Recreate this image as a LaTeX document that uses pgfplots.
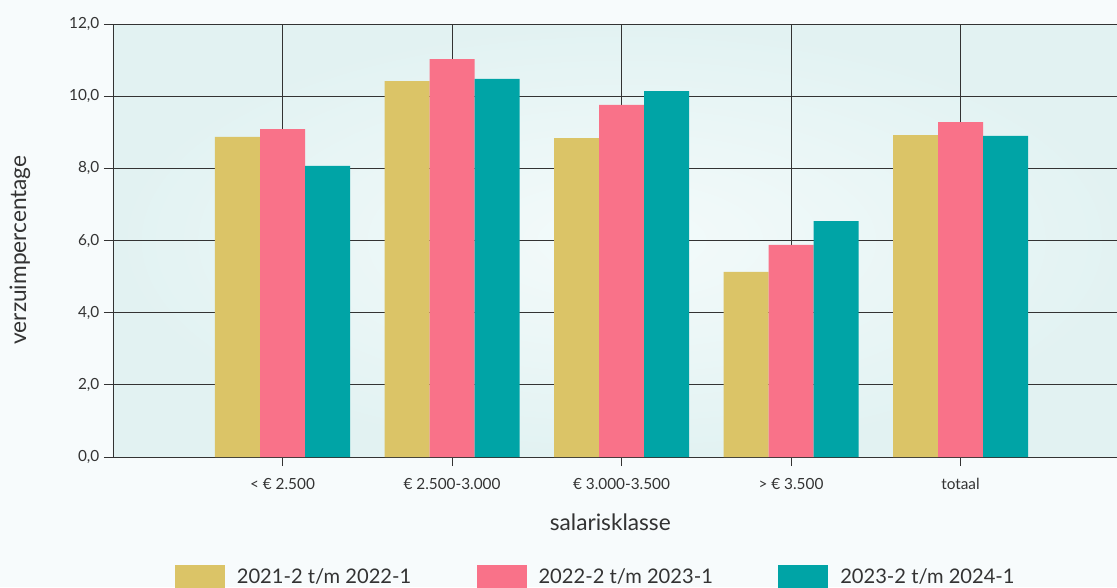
\documentclass[border=0pt]{standalone}
\usepackage{fontspec}
\setmainfont{Lato}
\usepackage{pgfplots}
\pgfplotsset{compat=1.18}
\definecolor{cgeel}{HTML}{DBC467}
\definecolor{croze}{HTML}{F97289}
\definecolor{cteal}{HTML}{00A4A6}
\definecolor{bgpage}{HTML}{F7FBFC}
\definecolor{bgplot}{HTML}{E2F2F2}
\definecolor{bglight}{HTML}{F4FBFB}
\definecolor{txt}{HTML}{333333}

\begin{document}
\begin{tikzpicture}
% page: 1117 x 587 px, 1px = 0.75pt
\fill[bgpage] (0,0) rectangle (837.75pt,440.25pt);
\path[use as bounding box] (0,0) rectangle (837.75pt,440.25pt);
\begin{axis}[
  at={(84.75pt,97.5pt)}, anchor=south west,
  scale only axis, width=762.75pt, height=324.75pt,
  xmin=-1, xmax=5, ymin=0, ymax=12,
  enlargelimits=false,
  ybar=0pt, bar width=33.75pt,
  axis background/.style={shade, shading=radial, inner color=bglight, outer color=bgplot},
  xtick={0,...,4},
  xticklabels={{< € 2.500},{€ 2.500-3.000},{€ 3.000-3.500},{> € 3.500},totaal},
  ytick={0,2,...,12},
  yticklabel={\pgfmathprintnumber[fixed,fixed zerofill,precision=1,use comma]{\tick}},
  /pgf/number format/assume math mode=true,
  tick pos=left, tick align=outside, major tick length=6.75pt,
  tick style={draw=txt, line width=0.6pt},
  axis line style={draw=txt, line width=0.6pt},
  grid=major, major grid style={draw=txt, line width=0.6pt},
  tick label style={font=\fontsize{11.5}{13}\selectfont, text=txt},
  xticklabel style={yshift=-5.5pt},
  label style={font=\fontsize{17}{20}\selectfont, text=txt},
  xlabel={salarisklasse},
  ylabel={verzuimpercentage},
  xlabel style={at={(axis description cs:0.489,-0.150)}, anchor=center},
  ylabel style={at={(axis description cs:-0.0914,0.478)}, anchor=center, rotate=0},
  legend style={at={(axis description cs:0.475,-0.277)}, anchor=center,
    draw=none, fill=none, legend columns=3,
    font=\fontsize{15.1}{18}\selectfont, text=txt,
    /tikz/every odd column/.append style={column sep=7pt},
    /tikz/every even column/.append style={column sep=47pt}},
  legend image code/.code={\fill[#1] (0pt,-9pt) rectangle (37.5pt,9pt);},
]
\addplot[fill=cgeel, draw=none] coordinates {(0,8.87) (1,10.42) (2,8.84) (3,5.13) (4,8.92)};
\addplot[fill=croze, draw=none] coordinates {(0,9.09) (1,11.03) (2,9.76) (3,5.88) (4,9.28)};
\addplot[fill=cteal, draw=none] coordinates {(0,8.07) (1,10.48) (2,10.14) (3,6.54) (4,8.90)};
\legend{2021-2 t/m 2022-1, 2022-2 t/m 2023-1, 2023-2 t/m 2024-1}
\end{axis}
\end{tikzpicture}
\end{document}
